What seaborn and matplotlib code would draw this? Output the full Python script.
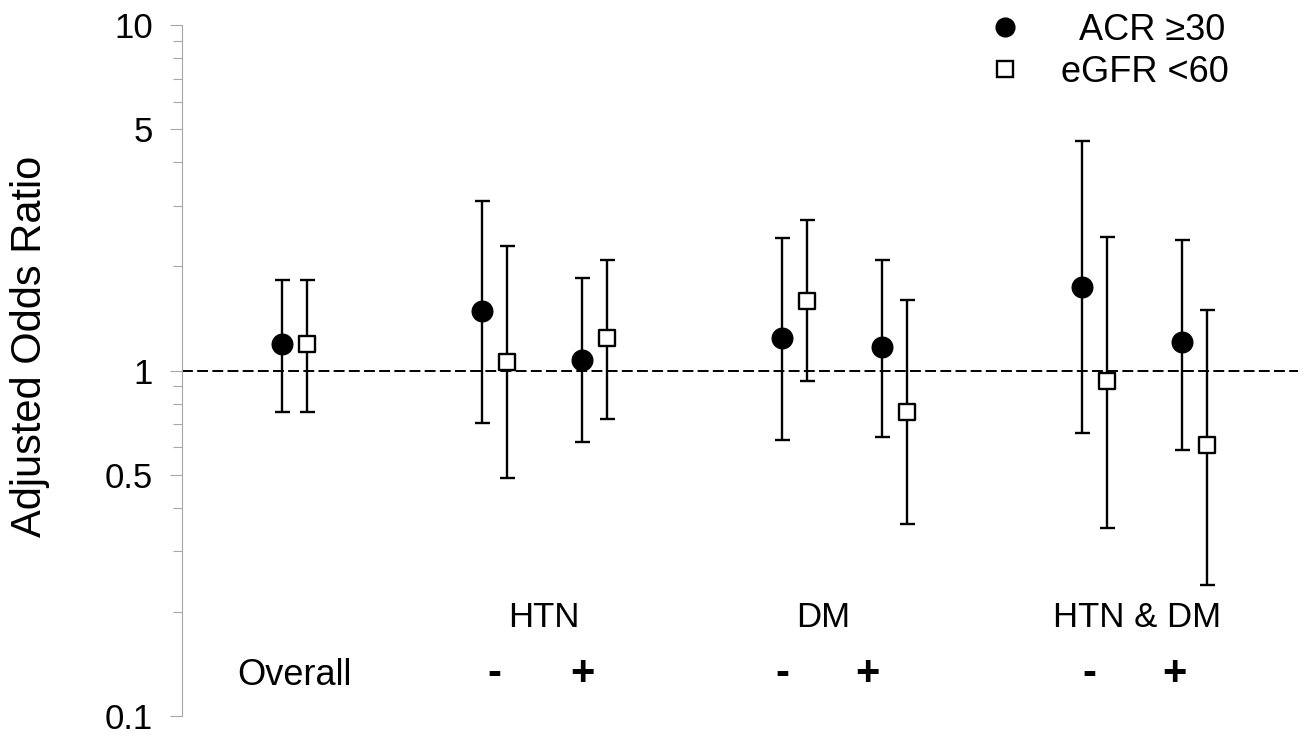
import numpy as np
import matplotlib.pyplot as plt
import pandas as pd
import seaborn as sns
from matplotlib.lines import Line2D
from matplotlib.ticker import FixedLocator, LogLocator, NullFormatter

# Values (odds ratio with 95% CI)
groups = ['Overall', 'HTN -', 'HTN +', 'DM -', 'DM +', 'HTN & DM -', 'HTN & DM +']
positions = [0, 2, 3, 5, 6, 8, 9]
acr_or = [1.19, 1.49, 1.07, 1.24, 1.17, 1.75, 1.21]
acr_lo = [0.76, 0.705, 0.62, 0.63, 0.64, 0.66, 0.59]
acr_hi = [1.83, 3.10, 1.85, 2.42, 2.09, 4.62, 2.38]
egfr_or = [1.19, 1.06, 1.24, 1.59, 0.76, 0.935, 0.61]
egfr_lo = [0.76, 0.49, 0.725, 0.93, 0.36, 0.35, 0.24]
egfr_hi = [1.83, 2.30, 2.09, 2.72, 1.60, 2.44, 1.50]

y_ticks = [0.1, 0.5, 1, 5, 10]
y_ticklabels = ['0.1', '0.5', '1', '5', '10']

sns.set_style('white')
plt.rcParams['font.family'] = ['Liberation Sans', 'DejaVu Sans']
plt.rcParams['text.color'] = 'black'
plt.rcParams['axes.labelcolor'] = 'black'

df = pd.concat([
    pd.DataFrame({'group': groups, 'x': np.array(positions) - 0.125, 'or': acr_or,
                  'lo': acr_lo, 'hi': acr_hi, 'series': 'ACR'}),
    pd.DataFrame({'group': groups, 'x': np.array(positions) + 0.125, 'or': egfr_or,
                  'lo': egfr_lo, 'hi': egfr_hi, 'series': 'eGFR'}),
])

fig = plt.figure(figsize=(13.09, 7.36), dpi=100)
ax = fig.add_axes([182 / 1309, 1 - 716 / 736, (1298 - 182) / 1309, (716 - 25) / 736])

ax.axhline(1, color='black', lw=1.4, ls=(0, (5.6, 2.2)), zorder=1)

# confidence intervals
ax.errorbar(df['x'], df['or'], yerr=[df['or'] - df['lo'], df['hi'] - df['or']],
            fmt='none', ecolor='black', elinewidth=1.7, capsize=5.4, capthick=1.7, zorder=2)

styles = {'ACR': dict(marker='o', s=220, color='black', edgecolor='black', linewidth=1),
          'eGFR': dict(marker='s', s=125, color='white', edgecolor='black', linewidth=1.7)}
for name, st in styles.items():
    sub = df[df['series'] == name]
    sns.scatterplot(data=sub, x='x', y='or', ax=ax, zorder=3, legend=False, **st)

ax.set_yscale('log')
ax.set_ylim(0.1, 10)
ax.set_xlim(-1.12, 10.04)
ax.yaxis.set_major_locator(FixedLocator(y_ticks))
ax.set_yticklabels(y_ticklabels)
ax.yaxis.set_minor_locator(LogLocator(base=10, subs=np.arange(2, 10)))
ax.yaxis.set_minor_formatter(NullFormatter())
ax.tick_params(axis='y', which='major', left=True, length=9, width=0.8, color='#a6a6a6',
               labelsize=25, pad=12, labelcolor='black')
ax.tick_params(axis='y', which='minor', left=True, length=6.3, width=0.8, color='#a6a6a6')
ax.set_xticks([])
ax.set_xlabel('')
for side in ['top', 'right', 'bottom']:
    ax.spines[side].set_visible(False)
ax.spines['left'].set_color('#a6a6a6')
ax.spines['left'].set_linewidth(0.8)

ax.set_ylabel('Adjusted Odds Ratio', fontsize=30)
ax.yaxis.set_label_coords(-0.118, 0.5355)

# category labels under the points
trans = ax.get_xaxis_transform()
ax.text(0, 0.0449, 'Overall', transform=trans, ha='center', va='baseline', fontsize=26)
sign_labels = ['-', '+', '-', '+', '-', '+']
sign_x = [2.0, 2.88, 4.88, 5.73, 7.95, 8.8]
for lab, x in zip(sign_labels, sign_x):
    ax.text(x, 0.0449, lab, transform=trans, ha='center', va='baseline', fontsize=30,
            fontweight='bold')
group_labels = ['HTN', 'DM', 'HTN & DM']
group_x = [2.5, 5.29, 8.43]
for lab, x in zip(group_labels, group_x):
    ax.text(x, 0.1288, lab, transform=trans, ha='center', va='baseline', fontsize=25)

handles = [Line2D([], [], ls='none', marker='o', markersize=13.5, color='black'),
           Line2D([], [], ls='none', marker='s', markersize=11, markerfacecolor='white',
                  markeredgecolor='black', markeredgewidth=1.7)]
ax.legend(handles, ['  ACR \u226530', 'eGFR <60'], loc='upper right', frameon=False,
          fontsize=26, bbox_to_anchor=(0.967, 1.065), handletextpad=1.05, labelspacing=0.2,
          handlelength=1.0)

fig.savefig('out.png', dpi=100)
